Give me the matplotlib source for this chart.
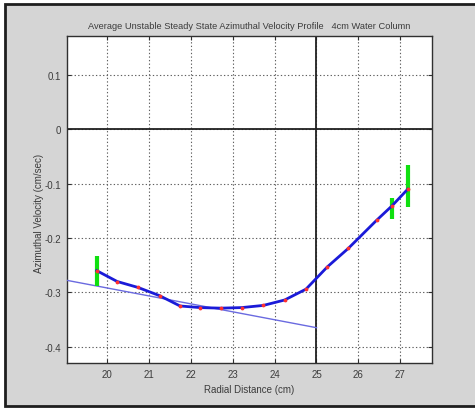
import matplotlib
matplotlib.use("Agg")
import matplotlib.pyplot as plt
from matplotlib.patches import Rectangle

# Mean azimuthal velocity profile (cm/sec) against radial distance (cm)
radius = [19.75, 20.24, 20.74, 21.25, 21.74, 22.22, 22.71, 23.21, 23.73,
          24.24, 24.75, 25.26, 25.76, 26.44, 26.80, 27.18]
velocity = [-0.260, -0.280, -0.291, -0.306, -0.325, -0.328, -0.329, -0.328,
            -0.324, -0.314, -0.294, -0.253, -0.219, -0.167, -0.141, -0.110]

# Spread of the measurements at selected radii
err_radius = [19.75, 26.80, 27.18]
err_low = [-0.288, -0.165, -0.143]
err_high = [-0.233, -0.127, -0.065]

# Straight reference line
fit_radius = [19.05, 25.0]
fit_velocity = [-0.278, -0.365]

x_ticks = [20, 21, 22, 23, 24, 25, 26, 27]
y_ticks = [-0.4, -0.3, -0.2, -0.1, 0.0, 0.1]
y_tick_labels = ["-0.4", "-0.3", "-0.2", "-0.1", "0", "0.1"]

title = "Average Unstable Steady State Azimuthal Velocity Profile   4cm Water Column"

plt.rcParams["font.family"] = ["Liberation Sans", "DejaVu Sans"]
text_color = "#3c3c3c"

fig = plt.figure(figsize=(4.75, 4.10), dpi=100, facecolor="white")
W, H = 475, 410
frame = Rectangle((5 / W, 3 / H), 1.0, 1 - 8 / H,
                  transform=fig.transFigure, facecolor="#d5d5d5",
                  edgecolor="#1e1e1e", linewidth=2.0, zorder=-10)
fig.patches.append(frame)

ax = fig.add_axes([67 / W, (H - 364) / H, (432 - 67) / W, (364 - 37) / H])
ax.set_zorder(1)
ax.set_facecolor("white")

ax.set_xlim(19.04, 27.76)
ax.set_ylim(-0.430, 0.172)
ax.set_xticks(x_ticks)
ax.set_xticklabels([str(t) for t in x_ticks])
ax.set_yticks(y_ticks)
ax.set_yticklabels(y_tick_labels)

ax.grid(True, color="#606060", linestyle=(0, (1.2, 2.0)), linewidth=0.8)
ax.set_axisbelow(True)
ax.tick_params(direction="in", length=3, width=0.8, colors="#303030",
               labelcolor=text_color, labelsize=7, top=True, right=True, pad=4)
for s in ax.spines.values():
    s.set_color("#303030")
    s.set_linewidth(1.0)

ax.axhline(0, color="#202020", linewidth=1.3, zorder=2)
ax.axvline(25, color="#202020", linewidth=1.3, zorder=2)

ax.plot(fit_radius, fit_velocity, color="#6a6ae0", linewidth=1.0, zorder=3)
ax.vlines(err_radius, err_low, err_high, color="#10e010", linewidth=3.0, zorder=4)
ax.plot(radius, velocity, color="#1a1ad8", linewidth=2.0, zorder=5)
ax.plot(radius, velocity, linestyle="none", marker=".", color="#ff3030",
        markersize=3.5, zorder=6)

ax.set_title(title, fontsize=6.7, color=text_color, pad=6)
ax.set_xlabel("Radial Distance (cm)", fontsize=7, color=text_color, labelpad=4)
ax.set_ylabel("Azimuthal Velocity (cm/sec)", fontsize=7, color=text_color)
ax.yaxis.set_label_coords(-0.062, 0.46)

fig.savefig("out.png", dpi=100, facecolor=fig.get_facecolor())
